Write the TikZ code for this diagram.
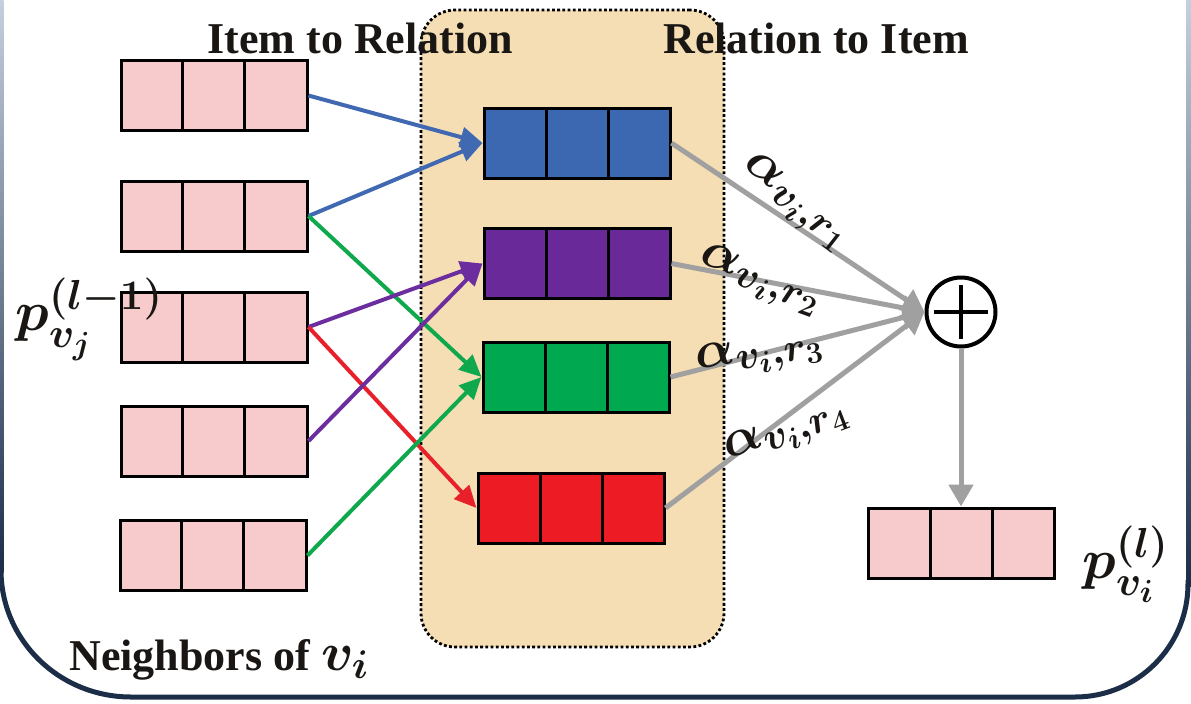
\RequirePackage{fix-cm}
\documentclass[tikz,border=0pt]{standalone}
\usepackage{amsmath}
\usepackage{fontspec}
\setmainfont{Liberation Serif}
\usetikzlibrary{arrows.meta,calc}
% larger script sizes for the weight and embedding labels
\DeclareMathSizes{26}{26}{20}{15}
\DeclareMathSizes{28}{28}{21}{16}
\DeclareMathSizes{27}{27}{20}{15}

\definecolor{cellpink}{RGB}{247,202,204}
\definecolor{relblue}{RGB}{60,104,178}
\definecolor{relpurple}{RGB}{106,41,152}
\definecolor{relgreen}{RGB}{0,168,80}
\definecolor{relred}{RGB}{237,28,36}
\definecolor{lineblue}{RGB}{65,105,178}
\definecolor{linepurple}{RGB}{108,46,158}
\definecolor{linegreen}{RGB}{16,168,76}
\definecolor{linered}{RGB}{232,32,42}
\definecolor{tanfill}{RGB}{246,222,180}
\definecolor{aggray}{RGB}{160,160,160}
\definecolor{framenavy}{RGB}{28,45,72}
\definecolor{framelight}{RGB}{196,208,222}
\definecolor{inkdark}{RGB}{25,22,20}

\begin{document}
\begin{tikzpicture}[x=0.5pt,y=-0.5pt,
  vec/.style={rectangle, draw=black, line width=1.5pt,
    minimum width=93pt, minimum height=35pt, inner sep=0pt,
    path picture={
      \foreach \f in {1,2}{
        \draw[line width=1.5pt]
          ($(path picture bounding box.north west)!\f/3!(path picture bounding box.north east)$) --
          ($(path picture bounding box.south west)!\f/3!(path picture bounding box.south east)$);
      }}},
  relgroup/.style={rectangle, rounded corners=17pt, fill=tanfill, draw=black,
    line width=1.4pt, dash pattern=on 1.4pt off 1.2pt,
    minimum width=151.5pt, minimum height=318.5pt, inner sep=0pt},
  sumnode/.style={circle, draw=black, line width=2pt, fill=white,
    minimum size=34.5pt, inner sep=0pt,
    path picture={
      \draw[line width=2pt] ($(path picture bounding box.center)+(-27,0)$) -- ($(path picture bounding box.center)+(27,0)$);
      \draw[line width=2pt] ($(path picture bounding box.center)+(0,-27)$) -- ($(path picture bounding box.center)+(0,27)$);
    }},
  title/.style={font=\fontsize{22}{26}\selectfont\bfseries, text=inkdark, inner sep=0pt, anchor=base west},
  alab/.style={font=\fontsize{26}{30}\selectfont\boldmath, text=inkdark, inner sep=0pt},
  plab/.style={font=\fontsize{28}{32}\selectfont\boldmath, text=inkdark, inner sep=0pt, anchor=base west},
  colarrow/.style={line width=2pt, -{Triangle[length=11pt,width=10pt]}},
  grayarrow/.style={draw=aggray, line width=2.5pt, -{Triangle[length=11pt,width=12pt]}},
]
\useasboundingbox (0,0) rectangle (1191,703);

% outer frame: dark lower outline, fading side edges
\begin{scope}
  \clip (0,0) rectangle (1191,703);
  \shade[top color=framelight, middle color=framelight, bottom color=framenavy]
    (-1.5,0) rectangle (3.5,572);
  \shade[top color=framelight, middle color=framelight, bottom color=framenavy]
    (1186,0) rectangle (1191,586);
  \draw[framenavy, line width=2.5pt]
    (1,570) arc[start angle=180, end angle=270, x radius=130, y radius=-127]
    -- (1075,697) arc[start angle=270, end angle=360, x radius=113, y radius=-113]
    -- (1188,580);
\end{scope}

% relation block
\node[relgroup] (rel) at (572.5,328.5) {};

% titles
\node[title] (t1) at (207,53) {Item to Relation};
\node[title] (t2) at (663,53) {Relation to Item};

% neighbour embeddings
\node[vec, fill=cellpink] (n1) at (214,95.5) {};
\node[vec, fill=cellpink] (n2) at (214,216) {};
\node[vec, fill=cellpink] (n3) at (214,327) {};
\node[vec, fill=cellpink] (n4) at (214,441) {};
\node[vec, fill=cellpink] (n5) at (213,555.5) {};

% relation embeddings
\node[vec, fill=relblue]   (rb) at (577,143) {};
\node[vec, fill=relpurple] (rp) at (577,263.5) {};
\node[vec, fill=relgreen]  (rg) at (576,377) {};
\node[vec, fill=relred]    (rr) at (571,508) {};

% aggregation and output
\node[sumnode] (sum) at (961,312) {};
\node[vec, fill=cellpink] (out) at (961,543) {};

% item -> relation
\draw[colarrow, lineblue]   (n1.east) -- (rb.west);
\draw[colarrow, lineblue]   (n2.east) -- (rb.west);
\draw[colarrow, linegreen]  (n2.east) -- (rg.west);
\draw[colarrow, linepurple] (n3.east) -- (rp.west);
\draw[colarrow, linered]    (n3.east) -- (rr.west);
\draw[colarrow, linepurple] (n4.east) -- (rp.west);
\draw[colarrow, linegreen]  (n5.east) -- (rg.west);

% relation -> item
\draw[grayarrow] (rb.east) -- (sum.west);
\draw[grayarrow] (rp.east) -- (sum.west);
\draw[grayarrow] (rg.east) -- (sum.west);
\draw[grayarrow] (rr.east) -- (sum.west);
\draw[grayarrow] (sum.south) -- (out.north);

% attention weights
\node[alab, rotate=-38] (a1) at (795,203) {$\alpha_{v_i,r_1}$};
\node[alab, rotate=-20] (a2) at (760,281) {$\alpha_{v_i,r_2}$};
\node[alab, rotate=10]  (a3) at (760,355) {$\alpha_{v_i,r_3}$};
\node[alab, rotate=21]  (a4) at (787,433) {$\alpha_{v_i,r_4}$};

% embedding labels
\node[plab] (pin) at (15,330) {$p_{v_j}^{(l-1)}$};
\node[plab] (pout) at (1082,578) {$p_{v_i}^{(l)}$};

% neighbourhood caption
\node[title] (nb) at (69,670) {Neighbors of {\fontsize{27}{30}\selectfont\boldmath$v_i$}};
\end{tikzpicture}
\end{document}
